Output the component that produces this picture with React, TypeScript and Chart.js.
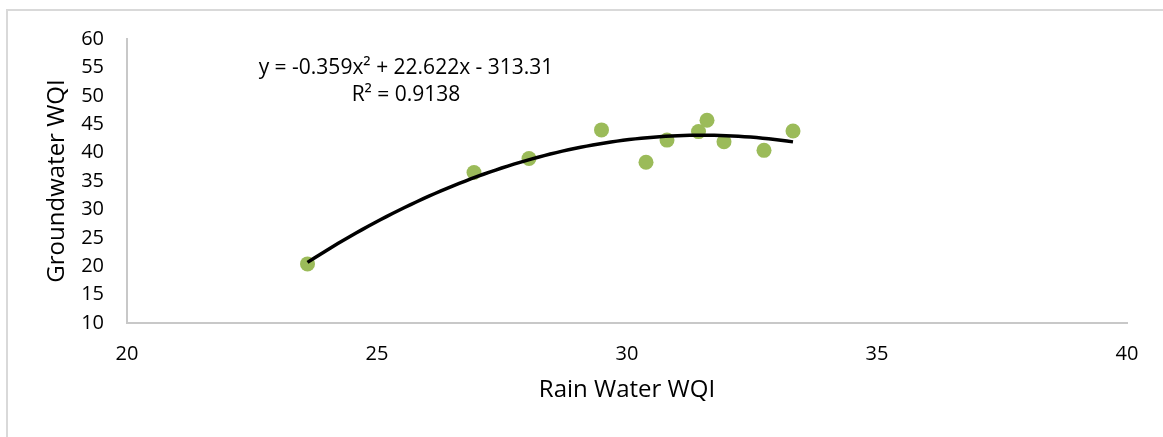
import React, { useEffect, useRef } from "react";
import { Chart, registerables } from "chart.js";

Chart.register(...registerables);

const rainWaterWQI = [23.61, 26.94, 28.04, 29.49, 30.38, 30.8, 31.43, 31.6, 31.94, 32.74, 33.32];
const groundwaterWQI = [20.4, 36.5, 38.95, 44.0, 38.3, 42.2, 43.7, 45.7, 41.9, 40.4, 43.8];

// Polynomial trendline coefficients as printed on the chart: a*x^2 + b*x + c
const trendCoefficients = [-0.359, 22.622, -313.31];
const equationLines = ["y = -0.359x² + 22.622x - 313.31", "R² = 0.9138"];

const xTitle = "Rain Water WQI";
const yTitle = "Groundwater WQI";

const FONT = "'Open Sans', sans-serif";

export default function App() {
  const canvasRef = useRef<HTMLCanvasElement>(null);

  useEffect(() => {
    const canvas = canvasRef.current;
    if (!canvas) return;

    const points = rainWaterWQI.map((x, i) => ({ x, y: groundwaterWQI[i] }));
    const xMin = Math.min(...rainWaterWQI);
    const xMax = Math.max(...rainWaterWQI);
    const [a, b, c] = trendCoefficients;
    const trend: { x: number; y: number }[] = [];
    const steps = 80;
    for (let i = 0; i <= steps; i++) {
      const x = xMin + ((xMax - xMin) * i) / steps;
      trend.push({ x, y: a * x * x + b * x + c });
    }

    const equationPlugin = {
      id: "equationLabel",
      afterDatasetsDraw(chart: any) {
        const { ctx, scales } = chart;
        const cx = scales.x.getPixelForValue(25.58);
        const y1 = scales.y.getPixelForValue(54.9);
        const y2 = scales.y.getPixelForValue(50.15);
        ctx.save();
        ctx.fillStyle = "#000000";
        ctx.font = `21px ${FONT}`;
        ctx.textAlign = "center";
        ctx.textBaseline = "middle";
        ctx.fillText(equationLines[0], cx, y1);
        ctx.fillText(equationLines[1], cx, y2);
        ctx.restore();
      },
    };

    const chart = new Chart(canvas, {
      type: "scatter",
      data: {
        datasets: [
          {
            label: "Trend",
            data: trend,
            showLine: true,
            borderColor: "#000000",
            borderWidth: 3.5,
            pointRadius: 0,
            fill: false,
            tension: 0,
          },
          {
            label: "WQI",
            data: points,
            backgroundColor: "#9bbb59",
            borderWidth: 0,
            pointRadius: 7.5,
          },
        ],
      },
      options: {
        animation: false,
        responsive: false,
        maintainAspectRatio: false,
        layout: { padding: { top: 39, right: 36, left: 0, bottom: 0 } },
        plugins: {
          legend: { display: false },
          tooltip: { enabled: false },
        },
        scales: {
          x: {
            type: "linear",
            min: 20,
            max: 40,
            ticks: {
              stepSize: 5,
              color: "#000000",
              padding: 19,
              font: { family: FONT, size: 20 },
            },
            grid: { display: false, drawTicks: false },
            border: { display: true, color: "#c8c8c8", width: 2 },
            title: {
              display: true,
              text: xTitle,
              color: "#000000",
              font: { family: FONT, size: 24 },
              padding: { top: 0, bottom: 32.6 },
            },
            afterFit: (scale: any) => {
              scale.height = 114;
            },
          },
          y: {
            type: "linear",
            min: 10,
            max: 60,
            ticks: {
              stepSize: 5,
              color: "#000000",
              padding: 23,
              font: { family: FONT, size: 20 },
            },
            grid: { display: false, drawTicks: false },
            border: { display: true, color: "#c8c8c8", width: 2 },
            title: {
              display: true,
              text: yTitle,
              color: "#000000",
              font: { family: FONT, size: 24 },
              padding: { top: 42.6, bottom: 0 },
            },
            afterFit: (scale: any) => {
              scale.width = 127;
            },
          },
        },
      },
      plugins: [equationPlugin],
    });

    return () => chart.destroy();
  }, []);

  return (
    <div
      style={{
        position: "fixed",
        left: 0,
        top: 0,
        width: 1163,
        height: 437,
        overflow: "hidden",
        background: "#ffffff",
      }}
    >
      <div
        style={{
          position: "absolute",
          left: 6,
          top: 9,
          width: 1200,
          height: 500,
          borderLeft: "2px solid #d9d9d9",
          borderTop: "2px solid #d9d9d9",
        }}
      />
      <canvas
        ref={canvasRef}
        width={1163}
        height={437}
        style={{ position: "absolute", left: 0, top: 0, width: 1163, height: 437 }}
      />
    </div>
  );
}
